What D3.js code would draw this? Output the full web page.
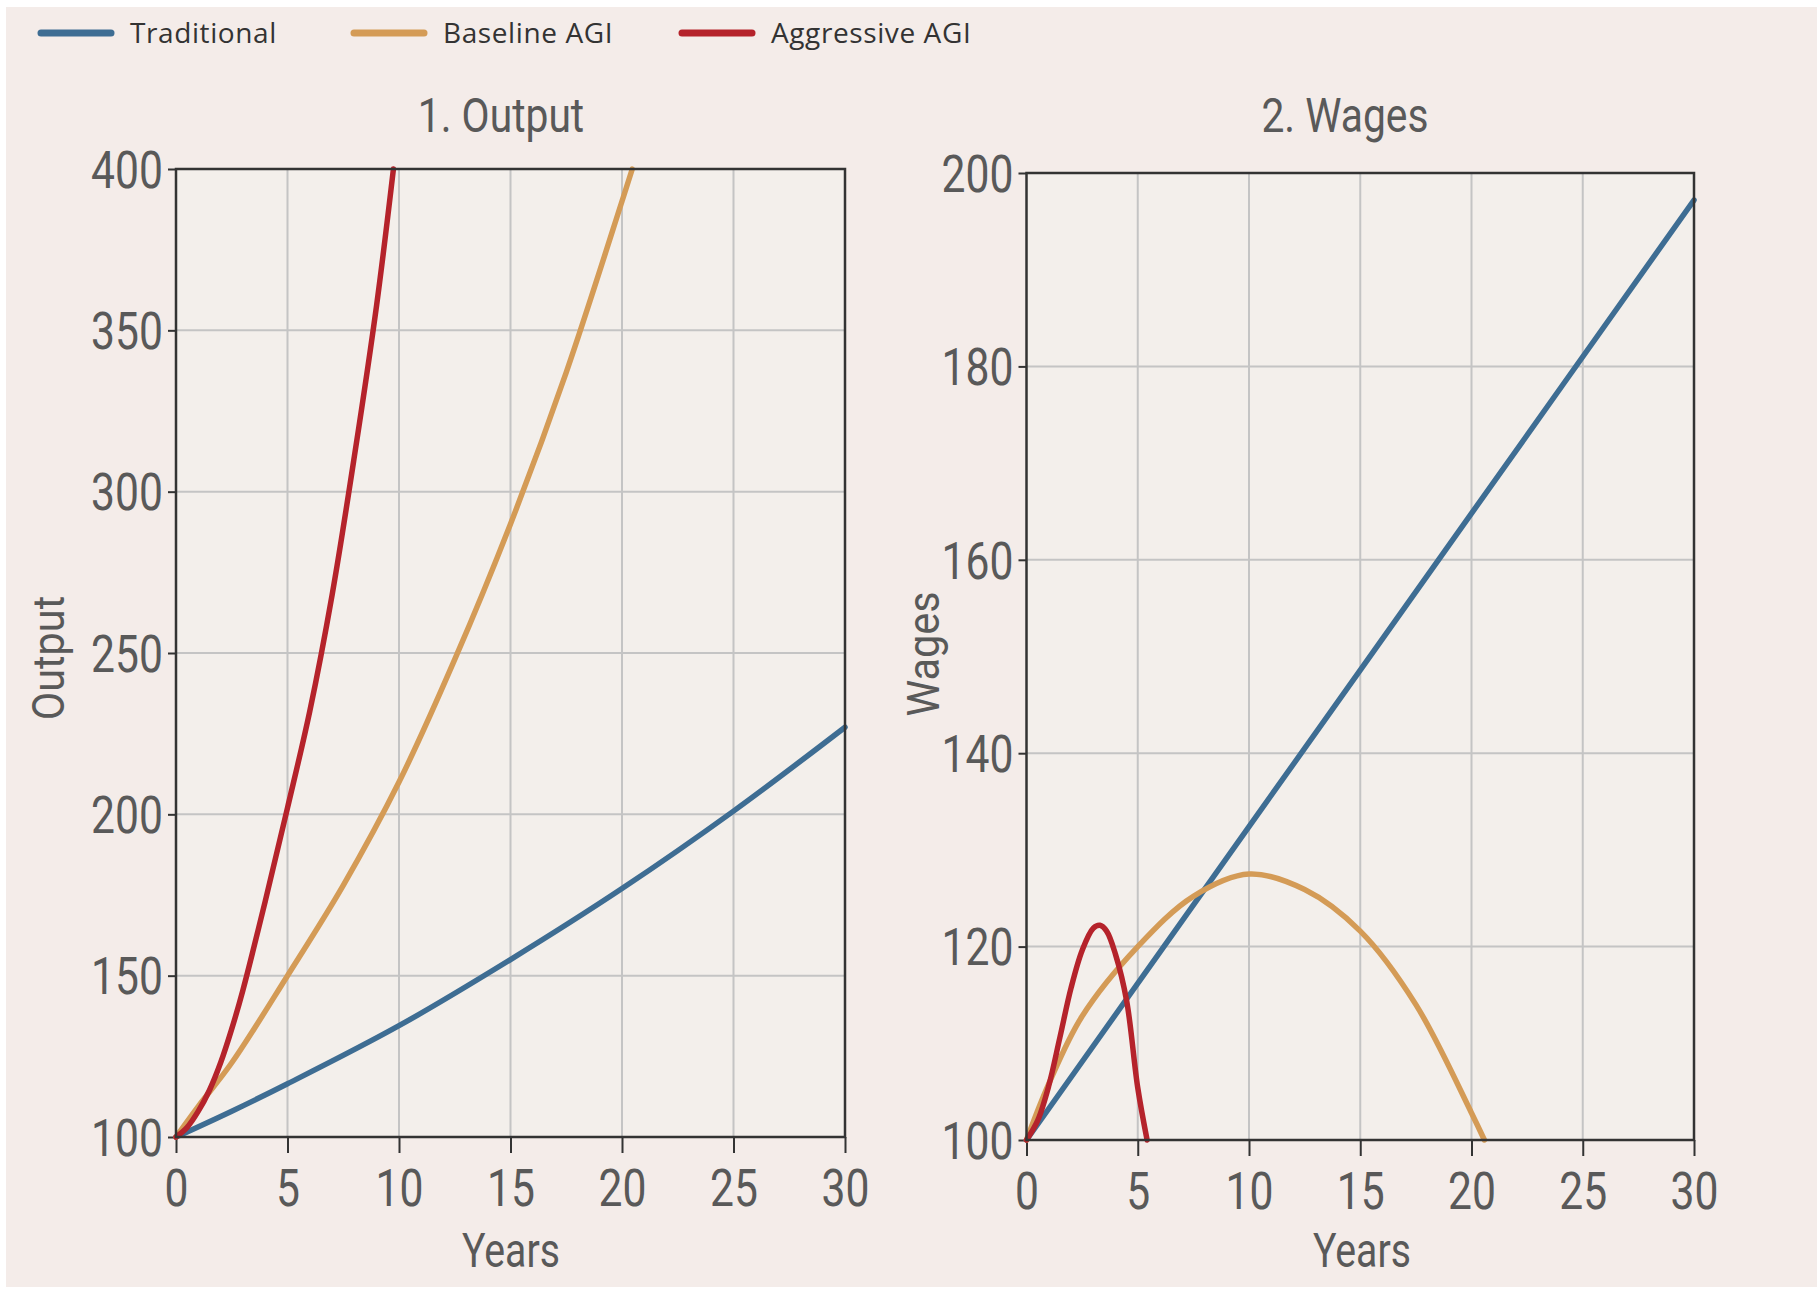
<!DOCTYPE html>
<html>
<head>
<meta charset="utf-8">
<script src="https://cdn.jsdelivr.net/npm/d3@7"></script>
<style>
  body { margin: 0; background: #ffffff; }
  svg { display: block; }
</style>
</head>
<body>
<svg id="chart" width="1817" height="1289"></svg>
<script>
// series, [year, value]
const seriesNames = ["Traditional", "Baseline AGI", "Aggressive AGI"];
const seriesColors = ["#3e6d93", "#d49b56", "#b5232b"];

const outputTraditional = [[0, 100], [2.5, 108], [5, 116.5], [10, 134.5], [15, 155], [20, 177], [25, 201], [30, 227]];
const outputBaseline = [[0, 100], [1, 109.5], [2.5, 123], [5, 150], [7.5, 178], [10, 210], [12.5, 248], [15, 290], [17.5, 337], [20, 390], [20.46, 400]];
const outputAggressive = [[0, 100], [0.5, 103], [1, 108], [1.5, 114.5], [2, 123], [2.5, 133.5], [3, 145.5], [4, 173], [5, 202], [6, 232], [7, 268], [8, 311], [9, 358], [9.75, 400]];

const wagesTraditional = [[0, 100], [10, 132.4], [20, 164.8], [30, 197.2]];
const wagesBaseline = [[0, 100], [1, 105.8], [2.5, 112.8], [5, 120], [7.5, 125.2], [10, 127.5], [12.5, 125.9], [15, 121.6], [17.5, 114], [20, 102.8], [20.58, 100]];
const wagesAggressive = [[0, 100], [0.5, 102], [1, 105.6], [1.5, 110.6], [2, 115.7], [2.5, 119.6], [3, 121.9], [3.3, 122.2], [3.6, 121.6], [4, 119.2], [4.5, 114.4], [5, 105.4], [5.42, 100]];

const yearTicks = [0, 5, 10, 15, 20, 25, 30];
const outputTicks = [100, 150, 200, 250, 300, 350, 400];
const wagesTicks = [100, 120, 140, 160, 180, 200];

const textColor = "#595959",
  condensedFont = "Roboto, 'Liberation Sans', sans-serif";

const svg = d3.select("#chart");

svg.append("rect")
  .attr("x", 6).attr("y", 7)
  .attr("width", 1811).attr("height", 1280)
  .attr("fill", "#f4ece9");

// condensed-looking text: a normal face squeezed horizontally
function squeezedText(g, x, y, text, size, sx, anchor, rotate) {
  return g.append("text")
    .attr("transform", `translate(${x},${y})${rotate ? " rotate(-90)" : ""} scale(${sx},1)`)
    .attr("text-anchor", anchor || "middle")
    .attr("font-family", condensedFont)
    .attr("font-size", size)
    .attr("fill", textColor)
    .text(text);
}

const panels = [
  {
    title: "1. Output", yLabel: "Output",
    left: 176, right: 845, bottom: 1137, top: 169,
    yDomain: [100, 400], yTicks: outputTicks,
    series: [outputTraditional, outputBaseline, outputAggressive],
    titleX: 501, xLabelX: 511, yLabelX: 64, yLabelY: 658
  },
  {
    title: "2. Wages", yLabel: "Wages",
    left: 1026.5, right: 1694, bottom: 1140, top: 173,
    yDomain: [100, 200], yTicks: wagesTicks,
    series: [wagesTraditional, wagesBaseline, wagesAggressive],
    titleX: 1345, xLabelX: 1362, yLabelX: 939, yLabelY: 654
  }
];

const tickSx = 0.82, tickSize = 52;

panels.forEach(p => {
  const x = d3.scaleLinear().domain([0, 30]).range([p.left, p.right]);
  const y = d3.scaleLinear().domain(p.yDomain).range([p.bottom, p.top]);
  const g = svg.append("g");

  g.append("rect")
    .attr("x", p.left).attr("y", p.top)
    .attr("width", p.right - p.left).attr("height", p.bottom - p.top)
    .attr("fill", "#f3efeb");

  // grid
  g.append("g").selectAll("line")
    .data(yearTicks.slice(1, -1))
    .join("line")
    .attr("x1", d => x(d)).attr("x2", d => x(d))
    .attr("y1", p.top).attr("y2", p.bottom)
    .attr("stroke", "#c4c4c4").attr("stroke-width", 2);
  g.append("g").selectAll("line")
    .data(p.yTicks.slice(1, -1))
    .join("line")
    .attr("x1", p.left).attr("x2", p.right)
    .attr("y1", d => y(d)).attr("y2", d => y(d))
    .attr("stroke", "#c4c4c4").attr("stroke-width", 2);

  // axes
  const xAxis = g.append("g")
    .attr("transform", `translate(0,${p.bottom})`)
    .call(d3.axisBottom(x).tickValues(yearTicks).tickSize(16).tickPadding(16));
  const yAxis = g.append("g")
    .attr("transform", `translate(${p.left},0)`)
    .call(d3.axisLeft(y).tickValues(p.yTicks).tickSize(8).tickPadding(5));

  [xAxis, yAxis].forEach(a => {
    a.select(".domain").remove();
    a.selectAll(".tick line").attr("stroke", "#333").attr("stroke-width", 2);
    a.selectAll(".tick text")
      .attr("font-family", condensedFont)
      .attr("font-size", tickSize)
      .attr("fill", textColor);
  });
  xAxis.selectAll(".tick text").attr("transform", `scale(${tickSx},1)`);
  yAxis.selectAll(".tick text")
    .attr("x", -13 / tickSx)
    .attr("dy", "0.35em")
    .attr("transform", `scale(${tickSx},1)`);

  // lines
  const line = d3.line()
    .x(d => x(d[0]))
    .y(d => y(d[1]))
    .curve(d3.curveCatmullRom.alpha(0.5));

  g.append("g").selectAll("path")
    .data(p.series)
    .join("path")
    .attr("d", line)
    .attr("fill", "none")
    .attr("stroke", (d, i) => seriesColors[i])
    .attr("stroke-width", 5.5)
    .attr("stroke-linecap", "round");

  // frame
  g.append("rect")
    .attr("x", p.left).attr("y", p.top)
    .attr("width", p.right - p.left).attr("height", p.bottom - p.top)
    .attr("fill", "none")
    .attr("stroke", "#333").attr("stroke-width", 2.5);

  squeezedText(g, p.titleX, 132, p.title, 48, 0.85);
  squeezedText(g, p.xLabelX, 1267, "Years", 49, 0.8);
  squeezedText(g, p.yLabelX, p.yLabelY, p.yLabel, 45, 0.92, "middle", true);
});

// legend
const legendX = [41, 354, 682];
const legend = svg.append("g")
  .selectAll("g")
  .data(seriesNames)
  .join("g")
  .attr("transform", (d, i) => `translate(${legendX[i]},33)`);

legend.append("line")
  .attr("x1", 0).attr("x2", 70)
  .attr("stroke", (d, i) => seriesColors[i])
  .attr("stroke-width", 7)
  .attr("stroke-linecap", "round");

legend.append("text")
  .attr("x", 89)
  .attr("y", 10)
  .attr("font-family", "'Open Sans', Lato, sans-serif")
  .attr("font-size", 28)
  .attr("letter-spacing", 0.6)
  .attr("fill", "#333")
  .text(d => d);
</script>
</body>
</html>
